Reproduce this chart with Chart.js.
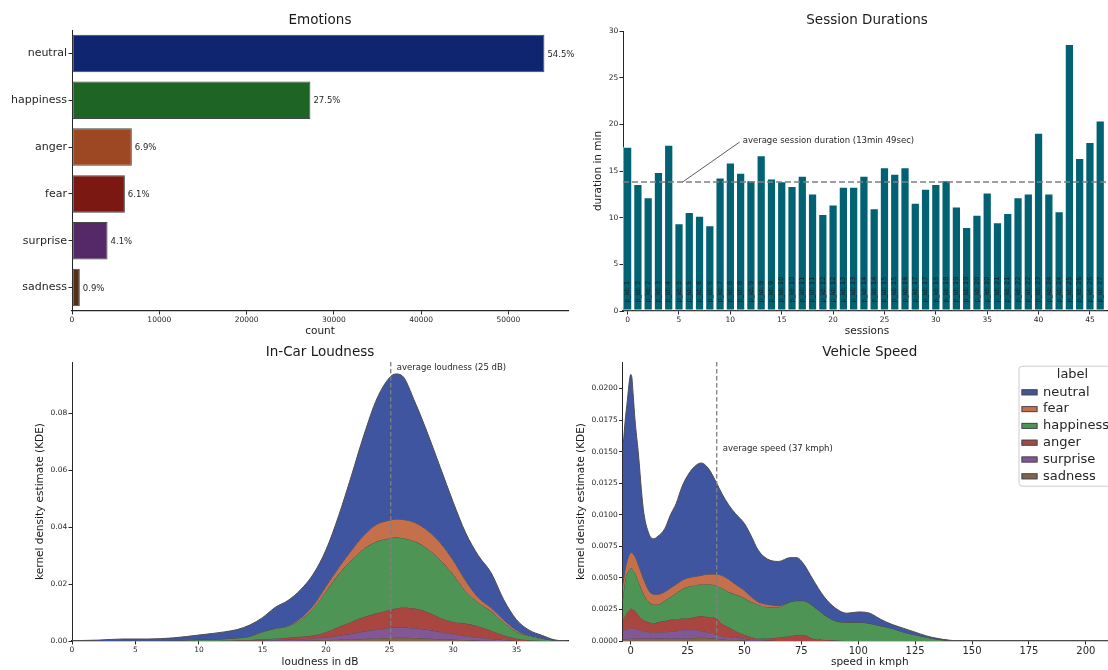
<!DOCTYPE html>
<html>
<head>
<meta charset="utf-8">
<title>Driving sessions overview</title>
<script src="https://cdn.jsdelivr.net/npm/chart.js@4.4.1/dist/chart.umd.min.js"></script>
<style>
  html, body { margin: 0; padding: 0; background: #fff; overflow: hidden; }
  body { width: 1108px; height: 670px; position: relative; }
  canvas { position: absolute; }
</style>
</head>
<body>
<canvas id="emotions" width="580" height="340" style="left:0;top:0"></canvas>
<canvas id="sessions" width="540" height="340" style="left:580px;top:0"></canvas>
<canvas id="loudness" width="580" height="330" style="left:0;top:340px"></canvas>
<canvas id="speed" width="560" height="330" style="left:570px;top:340px"></canvas>
<script>
// emotion counts
const emotionLabels = ['neutral', 'happiness', 'anger', 'fear', 'surprise', 'sadness'];
const emotionCounts = [54119, 27308, 6852, 6057, 4071, 894];
const countTicks = [0, 10000, 20000, 30000, 40000, 50000];
const barColors = ['#10256f', '#1e6525', '#9d4822', '#7b1812', '#552867', '#503017'];

// session durations (minutes) and participant of each session
const sessionDurations = [17.6, 13.6, 12.2, 14.9, 17.8, 9.4, 10.6, 10.2, 9.2, 14.3,
  15.9, 14.8, 14.0, 16.7, 14.2, 13.9, 13.4, 14.5, 12.6, 10.4,
  11.4, 13.3, 13.3, 14.5, 11.0, 15.4, 14.7, 15.4, 11.6, 13.1,
  13.6, 14.0, 11.2, 9.0, 10.3, 12.7, 9.5, 10.5, 12.2, 12.6,
  19.1, 12.6, 10.7, 28.6, 16.4, 18.1, 20.4];
const sessionPids = [1, 2, 2, 3, 4, 5, 5, 6, 6, 7,
  8, 8, 9, 9, 9, 10, 10, 11, 11, 12,
  12, 13, 13, 14, 14, 15, 15, 16, 17, 17,
  18, 18, 19, 19, 20, 20, 21, 21, 22, 22,
  23, 24, 24, 25, 26, 26, 27];
const avgDuration = 13.817;

// stacked kde layers, top edge of each layer (neutral on top)
const kdeLabels = ['neutral', 'fear', 'happiness', 'anger', 'surprise', 'sadness'];
const kdeColors = ['#40559f', '#c5704a', '#4e9555', '#a94640', '#835695', '#83634a'];

const loudX = [0, 2, 4, 6, 8, 10, 11, 12, 13, 14, 15, 16, 17, 18, 19, 20, 21, 22, 23, 24, 25, 25.5,
  26, 27, 28, 29, 30, 31, 32, 33, 34, 35, 36, 37, 38, 39];
const loudNeutral = [0.0001, 0.0003, 0.0007, 0.0007, 0.0011, 0.0021, 0.0026, 0.0032, 0.004, 0.0056, 0.0082,
  0.0118, 0.0142, 0.018, 0.0235, 0.032, 0.044, 0.058, 0.0725, 0.085, 0.0925, 0.0938,
  0.0932, 0.084, 0.073, 0.061, 0.049, 0.038, 0.030, 0.024, 0.0145, 0.0075, 0.0038, 0.002, 0.0004, 0];
const loudFear = [0, 0, 0.0001, 0.0001, 0.0002, 0.0005, 0.0006, 0.0008, 0.0011, 0.0017, 0.0033,
  0.0045, 0.0054, 0.008, 0.0125, 0.0192, 0.0258, 0.0318, 0.0372, 0.041, 0.0424, 0.0428,
  0.0427, 0.0416, 0.0388, 0.0345, 0.0285, 0.0212, 0.0152, 0.0117, 0.0074, 0.0038, 0.002, 0.001, 0.0002, 0];
const loudHappiness = [0, 0, 0.0001, 0.0001, 0.0002, 0.0005, 0.0006, 0.0008, 0.0011, 0.0016, 0.0032,
  0.0044, 0.0052, 0.0075, 0.0115, 0.0175, 0.0235, 0.0285, 0.0325, 0.035, 0.0361, 0.0364,
  0.0362, 0.035, 0.0325, 0.0285, 0.0235, 0.0175, 0.0135, 0.0105, 0.0065, 0.0033, 0.0018, 0.0009, 0.0002, 0];
const loudAnger = [0, 0, 0, 0, 0, 0.0001, 0.0001, 0.0002, 0.0003, 0.0004, 0.0006,
  0.0009, 0.0012, 0.0016, 0.002, 0.0032, 0.005, 0.0068, 0.0085, 0.0098, 0.011, 0.0115,
  0.0118, 0.0115, 0.0102, 0.0082, 0.0068, 0.0062, 0.0052, 0.0037, 0.002, 0.0009, 0.0003, 0.0001, 0, 0];
const loudSurprise = [0, 0, 0, 0, 0, 0, 0, 0, 0.0001, 0.0002, 0.0003,
  0.0004, 0.0005, 0.0007, 0.0009, 0.0013, 0.0019, 0.0026, 0.0034, 0.0041, 0.0046, 0.0048,
  0.0048, 0.0045, 0.004, 0.0032, 0.0025, 0.0018, 0.0013, 0.0008, 0.0004, 0.0001, 0, 0, 0, 0];
const loudSadness = [0, 0, 0, 0, 0, 0, 0, 0, 0, 0, 0,
  0.0001, 0.0001, 0.0002, 0.0003, 0.0004, 0.0005, 0.0006, 0.0008, 0.001, 0.0011, 0.0012,
  0.0012, 0.0011, 0.0009, 0.0007, 0.0005, 0.0004, 0.0002, 0.0001, 0, 0, 0, 0, 0, 0];
const avgLoudness = 25.1;

const speedX = [-3.6, -2.4, -1.5, -0.5, 0, 0.5, 1.1, 1.9, 3.3, 5.5,
  8, 10, 12, 15, 17.5, 20, 22.5, 25, 28, 31,
  34, 37.8, 40, 43, 46, 50, 53, 56, 60, 65,
  70, 73, 76, 80, 85, 90, 95, 100, 105, 110,
  115, 120, 125, 130, 135, 140, 145, 150, 213.7];
const speedNeutral = [0.0148, 0.0175, 0.019, 0.0207, 0.0211, 0.0209, 0.0195, 0.0175, 0.015, 0.0105,
  0.0085, 0.0081, 0.0083, 0.0089, 0.0100, 0.0109, 0.0122, 0.0131, 0.0138, 0.0141,
  0.0137, 0.0125, 0.0117, 0.0108, 0.0101, 0.0093, 0.0083, 0.0072, 0.0065, 0.0063,
  0.0066, 0.0066, 0.0061, 0.0049, 0.0035, 0.0026, 0.0022, 0.0023, 0.0022, 0.0017,
  0.0013, 0.001, 0.0007, 0.0004, 0.0002, 0.00006, 0.00001, 0, 0];
const speedFear = [0.0043, 0.0057, 0.0064, 0.0069, 0.0070, 0.0070, 0.0069, 0.0067, 0.0061, 0.0050,
  0.0040, 0.0037, 0.0037, 0.0039, 0.0042, 0.0045, 0.0048, 0.0050, 0.0051, 0.0052,
  0.0053, 0.0053, 0.0052, 0.0049, 0.0045, 0.0040, 0.0035, 0.0031, 0.0029, 0.0028,
  0.0031, 0.0032, 0.0032, 0.0028, 0.0021, 0.0016, 0.0015, 0.0015, 0.0014, 0.0012,
  0.0010, 0.0007, 0.0005, 0.0003, 0.00013, 0.00004, 0.00001, 0, 0];
const speedHappiness = [0.0032, 0.0049, 0.0054, 0.0057, 0.0058, 0.0058, 0.0056, 0.0054, 0.0048, 0.0038,
  0.0031, 0.0029, 0.0029, 0.0032, 0.0035, 0.0038, 0.0041, 0.0043, 0.0044, 0.0045,
  0.0045, 0.0044, 0.0042, 0.0039, 0.0037, 0.0034, 0.0031, 0.0029, 0.0027, 0.0027,
  0.0031, 0.0032, 0.0032, 0.0028, 0.0021, 0.0016, 0.0015, 0.0015, 0.0014, 0.0012,
  0.0010, 0.0007, 0.0005, 0.0003, 0.00013, 0.00004, 0.00001, 0, 0];
const speedAnger = [0.0017, 0.0020, 0.0023, 0.0025, 0.0026, 0.0026, 0.0025, 0.0024, 0.0021, 0.0017,
  0.0015, 0.0014, 0.0015, 0.0016, 0.0017, 0.0017, 0.0018, 0.0018, 0.0019, 0.0020,
  0.0019, 0.0018, 0.0014, 0.0011, 0.0008, 0.0005, 0.0003, 0.0002, 0.0002, 0.0003,
  0.0004, 0.0005, 0.0005, 0.0002, 0.0001, 0.00005, 0, 0, 0, 0,
  0, 0, 0, 0, 0, 0, 0, 0, 0];
const speedSurprise = [0.0007, 0.0009, 0.0009, 0.0010, 0.0010, 0.0010, 0.0010, 0.0010, 0.0009, 0.0008,
  0.0007, 0.0007, 0.0007, 0.0007, 0.0008, 0.0008, 0.0009, 0.0009, 0.0009, 0.0008,
  0.0007, 0.0005, 0.0004, 0.0003, 0.0003, 0.0002, 0.0001, 0.0001, 0.00005, 0,
  0, 0, 0, 0, 0, 0, 0, 0, 0, 0,
  0, 0, 0, 0, 0, 0, 0, 0, 0];
const speedSadness = [0.0001, 0.00015, 0.0002, 0.0002, 0.0002, 0.0002, 0.0002, 0.0002, 0.0002, 0.0002,
  0.0002, 0.0002, 0.0002, 0.0002, 0.0002, 0.0002, 0.0002, 0.0002, 0.00025, 0.0003,
  0.00025, 0.0002, 0.00015, 0.0001, 0.0001, 0.00005, 0, 0, 0, 0,
  0, 0, 0, 0, 0, 0, 0, 0, 0, 0,
  0, 0, 0, 0, 0, 0, 0, 0, 0];
const avgSpeed = 37.8;

const FONT = "'DejaVu Sans', sans-serif";
Chart.defaults.font.family = FONT;
Chart.defaults.color = '#262626';
Chart.defaults.animation = false;
Chart.defaults.plugins.legend.display = false;
Chart.defaults.plugins.tooltip.enabled = false;

// fixed axis box size so the plot areas line up
function fixBox(size) {
  return function (scale) {
    if (scale.isHorizontal()) scale.height = size;
    else scale.width = size;
    scale.paddingLeft = scale.paddingRight = scale.paddingTop = scale.paddingBottom = 0;
  };
}

function gridOpt() {
  return { display: true, drawOnChartArea: false, drawTicks: true, tickLength: 3.5, color: '#262626', offset: false };
}

function borderOpt(w) {
  return { display: true, color: '#262626', width: w };
}

function titleOpt(text, top, bottom) {
  return { display: true, text: text, fullSize: false, color: '#1a1a1a',
    font: { size: 13.5, weight: 'normal' }, padding: { top: top, bottom: bottom } };
}

function axisTitle(text, top, bottom) {
  return { display: true, text: text, color: '#1a1a1a', font: { size: 10.5 }, padding: { top: top, bottom: bottom } };
}

function numTicks(step, digits) {
  return { stepSize: step, includeBounds: false, maxRotation: 0, autoSkip: false,
    font: { size: 7.5 }, padding: 1.2,
    callback: v => digits == null ? String(v) : Number(v).toFixed(digits) };
}

function kdeDatasets(xs, layers) {
  return layers.map((ys, i) => ({
    label: kdeLabels[i],
    data: xs.map((x, j) => ({ x: x, y: ys[j] })),
    backgroundColor: kdeColors[i],
    borderColor: '#4d4d4d',
    borderWidth: 1,
    pointRadius: 0,
    cubicInterpolationMode: 'monotone',
    fill: i === layers.length - 1 ? 'origin' : '+1'
  }));
}

// dashed vertical line at the mean plus its note
function meanMarker(value, text, textY) {
  return {
    id: 'meanMarker',
    afterDatasetsDraw(chart) {
      const { ctx, chartArea: a, scales: { x, y } } = chart;
      const px = x.getPixelForValue(value);
      ctx.save();
      ctx.strokeStyle = '#808080';
      ctx.lineWidth = 1.3;
      ctx.setLineDash([4.5, 2.5]);
      ctx.beginPath();
      ctx.moveTo(px, a.top);
      ctx.lineTo(px, a.bottom);
      ctx.stroke();
      ctx.setLineDash([]);
      ctx.font = '8.5px ' + FONT;
      ctx.fillStyle = '#262626';
      ctx.textAlign = 'left';
      ctx.textBaseline = 'middle';
      ctx.fillText(text, px + 6, y.getPixelForValue(textY));
      ctx.restore();
    }
  };
}

// percentage of all samples next to each bar
const pctLabels = {
  id: 'pctLabels',
  afterDatasetsDraw(chart) {
    const ctx = chart.ctx;
    const total = emotionCounts.reduce((a, b) => a + b, 0);
    ctx.save();
    ctx.font = '8.5px ' + FONT;
    ctx.fillStyle = '#262626';
    ctx.textAlign = 'left';
    ctx.textBaseline = 'middle';
    chart.getDatasetMeta(0).data.forEach((bar, i) => {
      ctx.fillText((emotionCounts[i] / total * 100).toFixed(1) + '%', bar.x + 3, bar.y + 1);
    });
    ctx.restore();
  }
};

const sessionMarks = {
  id: 'sessionMarks',
  afterDatasetsDraw(chart) {
    const { ctx, chartArea: a, scales: { x, y } } = chart;
    ctx.save();
    ctx.font = '6.5px ' + FONT;
    ctx.fillStyle = '#1c1c1c';
    ctx.textAlign = 'left';
    ctx.textBaseline = 'middle';
    chart.getDatasetMeta(0).data.forEach((bar, i) => {
      ctx.save();
      ctx.translate(bar.x, bar.base - 8);
      ctx.rotate(-Math.PI / 2);
      ctx.fillText('p_id: ' + sessionPids[i], 0, 0);
      ctx.restore();
    });
    const ya = y.getPixelForValue(avgDuration);
    ctx.strokeStyle = '#808080';
    ctx.lineWidth = 1.6;
    ctx.setLineDash([6, 3]);
    ctx.beginPath();
    ctx.moveTo(a.left, ya);
    ctx.lineTo(a.right, ya);
    ctx.stroke();
    ctx.setLineDash([]);
    ctx.strokeStyle = '#333';
    ctx.lineWidth = 0.8;
    ctx.beginPath();
    ctx.moveTo(x.getPixelForValue(5.35), ya);
    ctx.lineTo(x.getPixelForValue(10.9), y.getPixelForValue(18.1));
    ctx.stroke();
    const mins = Math.floor(avgDuration);
    const secs = Math.round((avgDuration - mins) * 60);
    ctx.font = '8.5px ' + FONT;
    ctx.fillStyle = '#262626';
    ctx.fillText('average session duration (' + mins + 'min ' + secs + 'sec)',
      x.getPixelForValue(11.2), y.getPixelForValue(18.2));
    ctx.restore();
  }
};

const kdeLegend = {
  id: 'kdeLegend',
  afterDraw(chart) {
    const ctx = chart.ctx;
    const a = chart.chartArea;
    const left = a.right - 98.5, top = a.top + 3.7;
    ctx.save();
    ctx.fillStyle = 'rgba(255,255,255,0.85)';
    ctx.strokeStyle = '#cccccc';
    ctx.lineWidth = 1;
    ctx.beginPath();
    ctx.roundRect(left + 0.5, top + 0.5, 112, 120, 3);
    ctx.fill();
    ctx.stroke();
    ctx.font = '13px ' + FONT;
    ctx.fillStyle = '#262626';
    ctx.textBaseline = 'middle';
    ctx.textAlign = 'center';
    ctx.fillText('label', left + 54, a.top + 13);
    ctx.textAlign = 'left';
    kdeLabels.forEach((lab, i) => {
      const ry = a.top + 30.3 + i * 16.8;
      ctx.fillStyle = kdeColors[i];
      ctx.fillRect(left + 3, ry - 3, 16, 6);
      ctx.strokeStyle = '#4d4d4d';
      ctx.strokeRect(left + 3.5, ry - 2.5, 15, 5);
      ctx.fillStyle = '#262626';
      ctx.fillText(lab, left + 24.5, ry);
    });
    ctx.restore();
  }
};

new Chart(document.getElementById('emotions'), {
  type: 'bar',
  data: {
    labels: emotionLabels,
    datasets: [{ data: emotionCounts, backgroundColor: barColors, borderColor: '#474747',
      borderWidth: 1, borderSkipped: false, barPercentage: 0.8, categoryPercentage: 1 }]
  },
  options: {
    indexAxis: 'y',
    responsive: false,
    devicePixelRatio: 1,
    layout: { padding: { left: 0, right: 12, top: 0, bottom: 0 } },
    plugins: { title: titleOpt('Emotions', 11.9, 1.9) },
    scales: {
      x: { type: 'linear', min: 0, max: 56820, afterFit: fixBox(29), grid: gridOpt(), border: borderOpt(1.25),
        afterBuildTicks: s => { s.ticks = countTicks.map(v => ({ value: v })); },
        ticks: numTicks(10000), title: axisTitle('count', 0, 2.7) },
      y: { afterFit: fixBox(72), grid: gridOpt(), border: borderOpt(1),
        ticks: { font: { size: 11 }, padding: 1.5 } }
    }
  },
  plugins: [pctLabels]
});

new Chart(document.getElementById('sessions'), {
  type: 'bar',
  data: {
    datasets: [{ data: sessionDurations.map((d, i) => ({ x: i, y: d })), backgroundColor: '#006272',
      borderColor: 'rgba(255,255,255,0.55)', borderWidth: 1, borderSkipped: false,
      barPercentage: 0.9, categoryPercentage: 1 }]
  },
  options: {
    responsive: false,
    devicePixelRatio: 1,
    layout: { padding: { left: 0, right: 9, top: 0, bottom: 0 } },
    plugins: { title: titleOpt('Session Durations', 11.9, 2.9) },
    scales: {
      x: { type: 'linear', min: -0.45, max: 47.05, offset: false, afterFit: fixBox(29), grid: gridOpt(),
        border: borderOpt(1.25), ticks: numTicks(5), title: axisTitle('sessions', 0, 2.7) },
      y: { min: 0, max: 30, afterFit: fixBox(43), grid: gridOpt(), border: borderOpt(1),
        ticks: numTicks(5), title: axisTitle('duration in min', 11.7, 0) }
    }
  },
  plugins: [sessionMarks]
});

new Chart(document.getElementById('loudness'), {
  type: 'line',
  data: { datasets: kdeDatasets(loudX, [loudNeutral, loudFear, loudHappiness, loudAnger, loudSurprise, loudSadness]) },
  options: {
    responsive: false,
    devicePixelRatio: 1,
    layout: { padding: { left: 0, right: 12, top: 0, bottom: 0 } },
    plugins: { title: titleOpt('In-Car Loudness', 3.9, 1.9) },
    scales: {
      x: { type: 'linear', min: 0, max: 39.06, afterFit: fixBox(29), grid: gridOpt(), border: borderOpt(1.25),
        ticks: numTicks(5), title: axisTitle('loudness in dB', 0, 1.7) },
      y: { min: 0, max: 0.098, afterFit: fixBox(72), grid: gridOpt(), border: borderOpt(1),
        ticks: numTicks(0.02, 2), title: axisTitle('kernel density estimate (KDE)', 33.7, 0) }
    }
  },
  plugins: [meanMarker(avgLoudness, 'average loudness (' + Math.floor(avgLoudness) + ' dB)', 0.0958)]
});

new Chart(document.getElementById('speed'), {
  type: 'line',
  data: { datasets: kdeDatasets(speedX, [speedNeutral, speedFear, speedHappiness, speedAnger, speedSurprise, speedSadness]) },
  options: {
    responsive: false,
    devicePixelRatio: 1,
    layout: { padding: { left: 0, right: 13, top: 0, bottom: 0 } },
    plugins: { title: titleOpt('Vehicle Speed', 3.9, 1.9) },
    scales: {
      x: { type: 'linear', min: -3.6, max: 213.7, afterFit: fixBox(29), grid: gridOpt(), border: borderOpt(1.25),
        ticks: Object.assign(numTicks(25), { font: { size: 10 } }), title: axisTitle('speed in kmph', 0, 1.7) },
      y: { min: 0, max: 0.0221, afterFit: fixBox(52.5), grid: gridOpt(), border: borderOpt(1),
        ticks: numTicks(0.0025, 4), title: axisTitle('kernel density estimate (KDE)', 4.7, 0) }
    }
  },
  plugins: [meanMarker(avgSpeed, 'average speed (' + Math.floor(avgSpeed) + ' kmph)', 0.01524), kdeLegend]
});
</script>
</body>
</html>
